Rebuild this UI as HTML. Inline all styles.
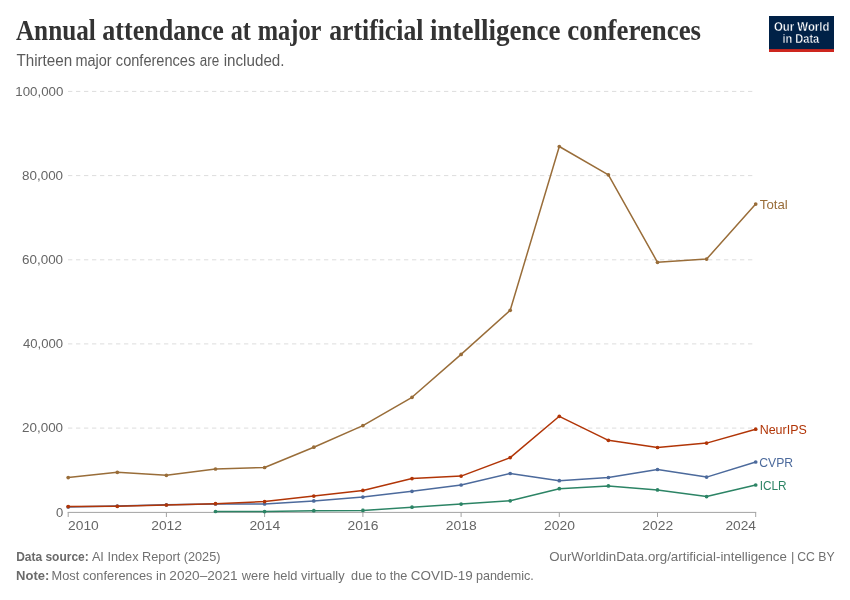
<!DOCTYPE html>
<html lang="en">
<head>
<meta charset="utf-8">
<title>Annual attendance at major artificial intelligence conferences</title>
<style>
html,body{margin:0;padding:0;background:#fff;}
svg{display:block;}
</style>
</head>
<body>
<svg width="850" height="600" viewBox="0 0 850 600">
<rect width="850" height="600" fill="#ffffff"/>
<!-- logo box -->
<rect x="769" y="16" width="65" height="36" fill="#002147"/>
<rect x="769" y="49.1" width="65" height="2.9" fill="#ce261e"/>
<!-- grid -->
<g stroke="#dddddd" stroke-width="1" stroke-dasharray="4.3,3.7" fill="none">
<line x1="68" y1="428.1" x2="756" y2="428.1"/>
<line x1="68" y1="343.9" x2="756" y2="343.9"/>
<line x1="68" y1="259.8" x2="756" y2="259.8"/>
<line x1="68" y1="175.6" x2="756" y2="175.6"/>
<line x1="68" y1="91.4" x2="756" y2="91.4"/>
</g>
<g stroke="#a3a3a3" stroke-width="1" fill="none">
<line x1="67.7" y1="512.4" x2="756.2" y2="512.4"/>
<line x1="68.2" y1="512.3" x2="68.2" y2="517"/>
<line x1="166.4" y1="512.3" x2="166.4" y2="517"/>
<line x1="264.6" y1="512.3" x2="264.6" y2="517"/>
<line x1="362.9" y1="512.3" x2="362.9" y2="517"/>
<line x1="461.1" y1="512.3" x2="461.1" y2="517"/>
<line x1="559.3" y1="512.3" x2="559.3" y2="517"/>
<line x1="657.5" y1="512.3" x2="657.5" y2="517"/>
<line x1="755.7" y1="512.3" x2="755.7" y2="517"/>
</g>
<polyline fill="none" stroke="#996D39" stroke-width="1.5" stroke-linejoin="round" stroke-linecap="butt" points="68.2,477.6 117.3,472.3 166.4,475.3 215.5,469.0 264.6,467.5 313.8,447.2 362.9,425.6 412.0,397.3 461.1,354.4 510.2,310.3 559.3,146.5 608.4,174.8 657.5,262.3 706.6,259.1 755.7,204.1"/>
<g fill="#996D39"><circle cx="68.2" cy="477.6" r="1.85"/><circle cx="117.3" cy="472.3" r="1.85"/><circle cx="166.4" cy="475.3" r="1.85"/><circle cx="215.5" cy="469.0" r="1.85"/><circle cx="264.6" cy="467.5" r="1.85"/><circle cx="313.8" cy="447.2" r="1.85"/><circle cx="362.9" cy="425.6" r="1.85"/><circle cx="412.0" cy="397.3" r="1.85"/><circle cx="461.1" cy="354.4" r="1.85"/><circle cx="510.2" cy="310.3" r="1.85"/><circle cx="559.3" cy="146.5" r="1.85"/><circle cx="608.4" cy="174.8" r="1.85"/><circle cx="657.5" cy="262.3" r="1.85"/><circle cx="706.6" cy="259.1" r="1.85"/><circle cx="755.7" cy="204.1" r="1.85"/></g>
<polyline fill="none" stroke="#2C8465" stroke-width="1.5" stroke-linejoin="round" stroke-linecap="butt" points="215.5,511.5 264.6,511.6 313.8,510.7 362.9,510.4 412.0,507.2 461.1,504.1 510.2,500.8 559.3,488.7 608.4,485.9 657.5,489.9 706.6,496.6 755.7,485.0"/>
<g fill="#2C8465"><circle cx="215.5" cy="511.5" r="1.85"/><circle cx="264.6" cy="511.6" r="1.85"/><circle cx="313.8" cy="510.7" r="1.85"/><circle cx="362.9" cy="510.4" r="1.85"/><circle cx="412.0" cy="507.2" r="1.85"/><circle cx="461.1" cy="504.1" r="1.85"/><circle cx="510.2" cy="500.8" r="1.85"/><circle cx="559.3" cy="488.7" r="1.85"/><circle cx="608.4" cy="485.9" r="1.85"/><circle cx="657.5" cy="489.9" r="1.85"/><circle cx="706.6" cy="496.6" r="1.85"/><circle cx="755.7" cy="485.0" r="1.85"/></g>
<polyline fill="none" stroke="#4C6A9C" stroke-width="1.5" stroke-linejoin="round" stroke-linecap="butt" points="68.2,506.9 117.3,506.0 166.4,504.8 215.5,504.0 264.6,503.9 313.8,500.9 362.9,497.1 412.0,491.3 461.1,485.0 510.2,473.5 559.3,480.7 608.4,477.5 657.5,469.5 706.6,477.1 755.7,462.0"/>
<g fill="#4C6A9C"><circle cx="68.2" cy="506.9" r="1.85"/><circle cx="117.3" cy="506.0" r="1.85"/><circle cx="166.4" cy="504.8" r="1.85"/><circle cx="215.5" cy="504.0" r="1.85"/><circle cx="264.6" cy="503.9" r="1.85"/><circle cx="313.8" cy="500.9" r="1.85"/><circle cx="362.9" cy="497.1" r="1.85"/><circle cx="412.0" cy="491.3" r="1.85"/><circle cx="461.1" cy="485.0" r="1.85"/><circle cx="510.2" cy="473.5" r="1.85"/><circle cx="559.3" cy="480.7" r="1.85"/><circle cx="608.4" cy="477.5" r="1.85"/><circle cx="657.5" cy="469.5" r="1.85"/><circle cx="706.6" cy="477.1" r="1.85"/><circle cx="755.7" cy="462.0" r="1.85"/></g>
<polyline fill="none" stroke="#B13507" stroke-width="1.5" stroke-linejoin="round" stroke-linecap="butt" points="68.2,506.6 117.3,506.3 166.4,505.0 215.5,503.7 264.6,501.6 313.8,496.1 362.9,490.4 412.0,478.6 461.1,476.1 510.2,457.6 559.3,416.3 608.4,440.3 657.5,447.5 706.6,443.1 755.7,429.2"/>
<g fill="#B13507"><circle cx="68.2" cy="506.6" r="1.85"/><circle cx="117.3" cy="506.3" r="1.85"/><circle cx="166.4" cy="505.0" r="1.85"/><circle cx="215.5" cy="503.7" r="1.85"/><circle cx="264.6" cy="501.6" r="1.85"/><circle cx="313.8" cy="496.1" r="1.85"/><circle cx="362.9" cy="490.4" r="1.85"/><circle cx="412.0" cy="478.6" r="1.85"/><circle cx="461.1" cy="476.1" r="1.85"/><circle cx="510.2" cy="457.6" r="1.85"/><circle cx="559.3" cy="416.3" r="1.85"/><circle cx="608.4" cy="440.3" r="1.85"/><circle cx="657.5" cy="447.5" r="1.85"/><circle cx="706.6" cy="443.1" r="1.85"/><circle cx="755.7" cy="429.2" r="1.85"/></g>
<!-- text -->
<text x="15.90" y="39.5" font-family="'Liberation Serif', serif" font-size="28.8" font-weight="700" fill="#333333" textLength="79.92" lengthAdjust="spacingAndGlyphs">Annual</text>
<text x="102.29" y="39.5" font-family="'Liberation Serif', serif" font-size="28.8" font-weight="700" fill="#333333" textLength="121.64" lengthAdjust="spacingAndGlyphs">attendance</text>
<text x="230.66" y="39.5" font-family="'Liberation Serif', serif" font-size="28.8" font-weight="700" fill="#333333" textLength="20.14" lengthAdjust="spacingAndGlyphs">at</text>
<text x="257.75" y="39.5" font-family="'Liberation Serif', serif" font-size="28.8" font-weight="700" fill="#333333" textLength="63.68" lengthAdjust="spacingAndGlyphs">major</text>
<text x="329.21" y="39.5" font-family="'Liberation Serif', serif" font-size="28.8" font-weight="700" fill="#333333" textLength="94.18" lengthAdjust="spacingAndGlyphs">artificial</text>
<text x="430.06" y="39.5" font-family="'Liberation Serif', serif" font-size="28.8" font-weight="700" fill="#333333" textLength="130.52" lengthAdjust="spacingAndGlyphs">intelligence</text>
<text x="567.27" y="39.5" font-family="'Liberation Serif', serif" font-size="28.8" font-weight="700" fill="#333333" textLength="133.81" lengthAdjust="spacingAndGlyphs">conferences</text>
<text x="16.40" y="66.0" font-family="'Liberation Sans', sans-serif" font-size="15.6" fill="#5b5b5b" textLength="55.79" lengthAdjust="spacingAndGlyphs">Thirteen</text>
<text x="75.47" y="66.0" font-family="'Liberation Sans', sans-serif" font-size="15.6" fill="#5b5b5b" textLength="36.23" lengthAdjust="spacingAndGlyphs">major</text>
<text x="115.87" y="66.0" font-family="'Liberation Sans', sans-serif" font-size="15.6" fill="#5b5b5b" textLength="79.39" lengthAdjust="spacingAndGlyphs">conferences</text>
<text x="199.84" y="66.0" font-family="'Liberation Sans', sans-serif" font-size="15.6" fill="#5b5b5b" textLength="19.43" lengthAdjust="spacingAndGlyphs">are</text>
<text x="223.73" y="66.0" font-family="'Liberation Sans', sans-serif" font-size="15.6" fill="#5b5b5b" textLength="60.76" lengthAdjust="spacingAndGlyphs">included.</text>
<text x="773.90" y="30.8" font-family="'Liberation Sans', sans-serif" font-size="12" font-weight="700" fill="#ffffff" stroke="#002147" stroke-width="0.35" textLength="55.53" lengthAdjust="spacingAndGlyphs">Our World</text>
<text x="782.48" y="42.7" font-family="'Liberation Sans', sans-serif" font-size="12" font-weight="700" fill="#ffffff" stroke="#002147" stroke-width="0.35" textLength="36.73" lengthAdjust="spacingAndGlyphs">in Data</text>
<text x="15.31" y="95.6" font-family="'Liberation Sans', sans-serif" font-size="13.4" fill="#666666" textLength="48.10" lengthAdjust="spacingAndGlyphs">100,000</text>
<text x="22.00" y="179.8" font-family="'Liberation Sans', sans-serif" font-size="13.4" fill="#666666" textLength="41.07" lengthAdjust="spacingAndGlyphs">80,000</text>
<text x="22.00" y="264.0" font-family="'Liberation Sans', sans-serif" font-size="13.4" fill="#666666" textLength="41.07" lengthAdjust="spacingAndGlyphs">60,000</text>
<text x="23.00" y="348.1" font-family="'Liberation Sans', sans-serif" font-size="13.4" fill="#666666" textLength="40.07" lengthAdjust="spacingAndGlyphs">40,000</text>
<text x="22.00" y="432.3" font-family="'Liberation Sans', sans-serif" font-size="13.4" fill="#666666" textLength="41.07" lengthAdjust="spacingAndGlyphs">20,000</text>
<text x="55.90" y="516.5" font-family="'Liberation Sans', sans-serif" font-size="13.4" fill="#666666" textLength="7.24" lengthAdjust="spacingAndGlyphs">0</text>
<text x="68.07" y="530.3" font-family="'Liberation Sans', sans-serif" font-size="13.4" fill="#666666" textLength="30.75" lengthAdjust="spacingAndGlyphs">2010</text>
<text x="151.18" y="530.3" font-family="'Liberation Sans', sans-serif" font-size="13.4" fill="#666666" textLength="30.86" lengthAdjust="spacingAndGlyphs">2012</text>
<text x="249.40" y="530.3" font-family="'Liberation Sans', sans-serif" font-size="13.4" fill="#666666" textLength="30.86" lengthAdjust="spacingAndGlyphs">2014</text>
<text x="347.62" y="530.3" font-family="'Liberation Sans', sans-serif" font-size="13.4" fill="#666666" textLength="30.86" lengthAdjust="spacingAndGlyphs">2016</text>
<text x="445.84" y="530.3" font-family="'Liberation Sans', sans-serif" font-size="13.4" fill="#666666" textLength="30.86" lengthAdjust="spacingAndGlyphs">2018</text>
<text x="544.06" y="530.3" font-family="'Liberation Sans', sans-serif" font-size="13.4" fill="#666666" textLength="30.86" lengthAdjust="spacingAndGlyphs">2020</text>
<text x="642.28" y="530.3" font-family="'Liberation Sans', sans-serif" font-size="13.4" fill="#666666" textLength="30.86" lengthAdjust="spacingAndGlyphs">2022</text>
<text x="725.48" y="530.3" font-family="'Liberation Sans', sans-serif" font-size="13.4" fill="#666666" textLength="30.54" lengthAdjust="spacingAndGlyphs">2024</text>
<text x="759.80" y="208.5" font-family="'Liberation Sans', sans-serif" font-size="13.4" fill="#996D39" textLength="27.88" lengthAdjust="spacingAndGlyphs">Total</text>
<text x="759.67" y="433.8" font-family="'Liberation Sans', sans-serif" font-size="13.4" fill="#B13507" textLength="47.10" lengthAdjust="spacingAndGlyphs">NeurIPS</text>
<text x="759.30" y="466.5" font-family="'Liberation Sans', sans-serif" font-size="13.5" fill="#4C6A9C" textLength="33.87" lengthAdjust="spacingAndGlyphs">CVPR</text>
<text x="759.72" y="489.6" font-family="'Liberation Sans', sans-serif" font-size="13.5" fill="#2C8465" textLength="26.95" lengthAdjust="spacingAndGlyphs">ICLR</text>
<text x="16.18" y="560.6" font-family="'Liberation Sans', sans-serif" font-size="13" font-weight="700" fill="#6a6a6a" textLength="72.51" lengthAdjust="spacingAndGlyphs">Data source:</text>
<text x="91.90" y="560.6" font-family="'Liberation Sans', sans-serif" font-size="13" fill="#707070" textLength="128.62" lengthAdjust="spacingAndGlyphs">AI Index Report (2025)</text>
<text x="16.10" y="580.1" font-family="'Liberation Sans', sans-serif" font-size="13" font-weight="700" fill="#6a6a6a" textLength="33.22" lengthAdjust="spacingAndGlyphs">Note:</text>
<text x="51.62" y="580.1" font-family="'Liberation Sans', sans-serif" font-size="13" fill="#707070" textLength="114.42" lengthAdjust="spacingAndGlyphs">Most conferences in</text>
<text x="169.35" y="580.1" font-family="'Liberation Sans', sans-serif" font-size="13" fill="#707070" textLength="68.28" lengthAdjust="spacingAndGlyphs">2020–2021</text>
<text x="241.80" y="580.1" font-family="'Liberation Sans', sans-serif" font-size="13" fill="#707070" textLength="102.75" lengthAdjust="spacingAndGlyphs">were held virtually</text>
<text x="351.10" y="580.1" font-family="'Liberation Sans', sans-serif" font-size="13" fill="#707070" textLength="56.31" lengthAdjust="spacingAndGlyphs">due to the</text>
<text x="410.77" y="580.1" font-family="'Liberation Sans', sans-serif" font-size="13" fill="#707070" textLength="62.04" lengthAdjust="spacingAndGlyphs">COVID-19</text>
<text x="475.93" y="580.1" font-family="'Liberation Sans', sans-serif" font-size="13" fill="#707070" textLength="57.92" lengthAdjust="spacingAndGlyphs">pandemic.</text>
<text x="549.18" y="560.6" font-family="'Liberation Sans', sans-serif" font-size="13" fill="#707070" textLength="237.75" lengthAdjust="spacingAndGlyphs">OurWorldinData.org/artificial-intelligence</text>
<text x="790.90" y="560.6" font-family="'Liberation Sans', sans-serif" font-size="13" fill="#707070" textLength="3.39" lengthAdjust="spacingAndGlyphs">|</text>
<text x="797.26" y="560.6" font-family="'Liberation Sans', sans-serif" font-size="13" fill="#707070" textLength="37.43" lengthAdjust="spacingAndGlyphs">CC BY</text>
</svg>
</body>
</html>
